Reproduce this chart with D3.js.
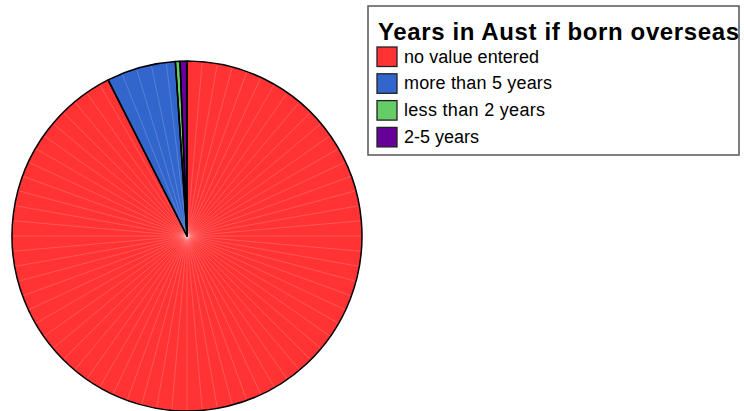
<!DOCTYPE html>
<html>
<head>
<meta charset="utf-8">
<script src="https://cdn.jsdelivr.net/npm/d3@7"></script>
<style>
  body { margin: 0; background: #fff; }
  svg { display: block; }
</style>
</head>
<body>
<script>
const width = 744, height = 411;

const title = "Years in Aust if born overseas";
const categories = ["no value entered", "more than 5 years", "less than 2 years", "2-5 years"];
const counts = [435, 30, 2, 3];
const colours = ["#ff3333", "#3366cc", "#66cc66", "#660099"];
const labelWidths = [135, 148, 141, 75]; // measured text widths in the picture

const svg = d3.select("body")
    .append("svg")
    .attr("width", width)
    .attr("height", height);

const cx = 187, cy = 236, radius = 175;

// clockwise from 12 o'clock, in legend order
const pie = d3.pie()
    .sort(null)
    .value(d => d);

const arc = d3.arc().innerRadius(0).outerRadius(radius);
const slices = pie(counts);

const g = svg.append("g").attr("transform", `translate(${cx},${cy})`);

g.selectAll(".slice")
    .data(slices)
    .enter()
    .append("path")
    .attr("class", "slice")
    .attr("d", arc)
    .attr("fill", (d, i) => colours[i]);

// faint seams of the fan the original renderer used
const seams = [];
slices.forEach(s => {
    for (let a = s.startAngle + Math.PI / 36; a < s.endAngle - 0.01; a += Math.PI / 36) seams.push(a);
});
g.selectAll(".seam")
    .data(seams)
    .enter()
    .append("line")
    .attr("x1", 0).attr("y1", 0)
    .attr("x2", a => radius * Math.sin(a))
    .attr("y2", a => -radius * Math.cos(a))
    .attr("stroke", "#fff")
    .attr("stroke-opacity", 0.22)
    .attr("stroke-width", 0.8);

g.selectAll(".edge")
    .data(slices)
    .enter()
    .append("path")
    .attr("d", arc)
    .attr("fill", "none")
    .attr("stroke", "#000")
    .attr("stroke-width", 1.5)
    .attr("stroke-linejoin", "round");

// legend
const legend = svg.append("g");
legend.append("rect")
    .attr("x", 368).attr("y", 6)
    .attr("width", 371).attr("height", 149)
    .attr("fill", "#fff")
    .attr("stroke", "#555")
    .attr("stroke-width", 1.5);

legend.append("text")
    .attr("x", 378).attr("y", 40)
    .attr("font-family", "Liberation Sans, Arial, sans-serif")
    .attr("font-weight", "bold")
    .attr("font-size", 24)
    .attr("textLength", 361)
    .attr("lengthAdjust", "spacing")
    .text(title);

const rowY = d3.scaleLinear().domain([0, 1]).range([47, 73.8]);

const items = legend.selectAll(".item")
    .data(categories)
    .enter()
    .append("g")
    .attr("transform", (d, i) => `translate(0,${rowY(i)})`);

items.append("rect")
    .attr("x", 377).attr("y", 0)
    .attr("width", 20).attr("height", 19.5)
    .attr("fill", (d, i) => colours[i])
    .attr("stroke", "#222")
    .attr("stroke-width", 1.3);

items.append("text")
    .attr("x", 404).attr("y", 15.5)
    .attr("font-family", "Liberation Sans, Arial, sans-serif")
    .attr("font-size", 18)
    .attr("textLength", (d, i) => labelWidths[i])
    .attr("lengthAdjust", "spacing")
    .text(d => d);
</script>
</body>
</html>
